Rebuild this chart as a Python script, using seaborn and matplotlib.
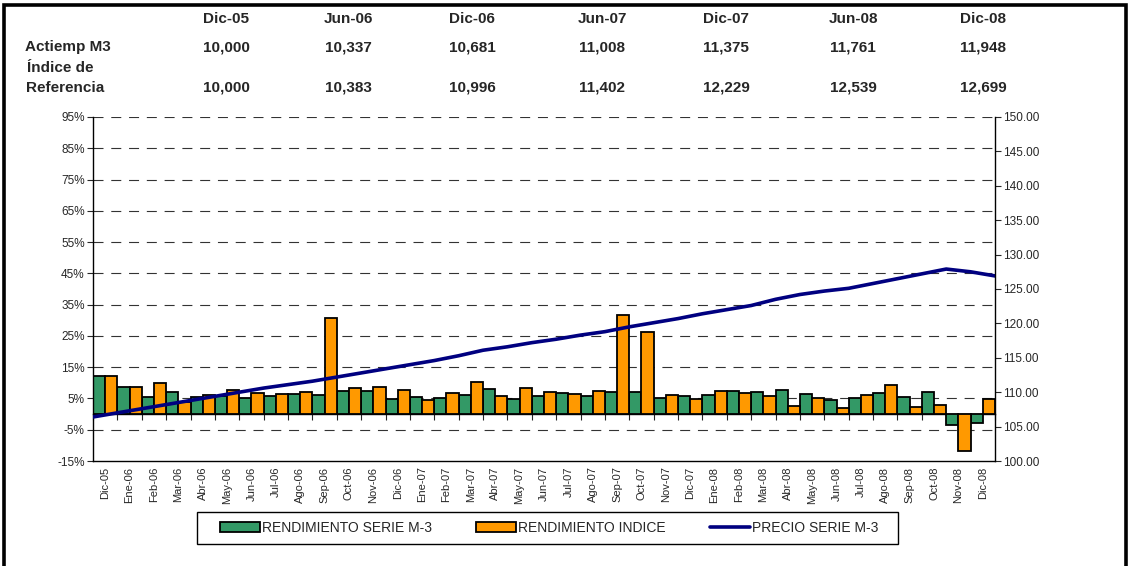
import numpy as np
import pandas as pd
import matplotlib
matplotlib.use("Agg")
import matplotlib.pyplot as plt
import seaborn as sns
from matplotlib.patches import Patch, Rectangle
from matplotlib.lines import Line2D

# ---- data ----
meses = ['Dic-05', 'Ene-06', 'Feb-06', 'Mar-06', 'Abr-06', 'May-06', 'Jun-06',
         'Jul-06', 'Ago-06', 'Sep-06', 'Oct-06', 'Nov-06', 'Dic-06', 'Ene-07',
         'Feb-07', 'Mar-07', 'Abr-07', 'May-07', 'Jun-07', 'Jul-07', 'Ago-07',
         'Sep-07', 'Oct-07', 'Nov-07', 'Dic-07', 'Ene-08', 'Feb-08', 'Mar-08',
         'Abr-08', 'May-08', 'Jun-08', 'Jul-08', 'Ago-08', 'Sep-08', 'Oct-08',
         'Nov-08', 'Dic-08']

rend_serie = [12.2, 8.7, 5.5, 7.0, 5.5, 5.8, 5.3, 5.9, 6.5, 6.1, 7.4, 7.4, 4.9,
              5.4, 5.3, 6.2, 7.9, 4.9, 5.8, 6.8, 5.9, 7.1, 7.1, 5.2, 5.9, 6.2,
              7.5, 7.2, 7.6, 6.4, 4.6, 5.2, 6.6, 5.5, 7.1, -3.5, -2.7]

rend_indice = [12.2, 8.7, 9.8, 4.0, 6.1, 7.7, 6.8, 6.3, 7.2, 30.7, 8.4, 8.6, 7.8,
               4.6, 6.8, 10.3, 5.8, 8.3, 7.0, 6.3, 7.4, 31.7, 26.3, 6.2, 4.9, 7.5,
               6.8, 5.7, 2.6, 5.2, 2.0, 6.0, 9.4, 2.3, 2.9, -11.8, 4.7]

# price of the series at each month boundary (start of Dic-05 .. end of Dic-08)
precio = [106.4, 107.0, 107.6, 108.2, 108.8, 109.4, 110.0, 110.6, 111.1, 111.6,
          112.2, 112.8, 113.4, 114.0, 114.6, 115.3, 116.1, 116.6, 117.2, 117.7,
          118.3, 118.8, 119.5, 120.1, 120.7, 121.4, 122.0, 122.6, 123.5, 124.2,
          124.7, 125.1, 125.8, 126.5, 127.2, 127.9, 127.5, 126.9]

# summary table above the chart
tabla_fechas = ['Dic-05', 'Jun-06', 'Dic-06', 'Jun-07', 'Dic-07', 'Jun-08', 'Dic-08']
tabla_actiemp = ['10,000', '10,337', '10,681', '11,008', '11,375', '11,761', '11,948']
tabla_indice = ['10,000', '10,383', '10,996', '11,402', '12,229', '12,539', '12,699']

VERDE = '#339966'
NARANJA = '#FF9900'
AZUL = '#000080'

sns.set_style('white')
plt.rcParams['font.family'] = ['Liberation Sans', 'DejaVu Sans']

df = pd.DataFrame({
    'mes': meses * 2,
    'valor': rend_serie + rend_indice,
    'serie': ['RENDIMIENTO SERIE M-3'] * len(meses) + ['RENDIMIENTO INDICE'] * len(meses),
})


def fx(px):
    return px / 1130


def fy(py):
    return 1 - py / 566


fig = plt.figure(figsize=(11.30, 5.66), dpi=100)
ax = fig.add_axes([0.0823, 0.1855, 0.8805 - 0.0823, 0.7933 - 0.1855])

ymin, ymax = -15, 95
for y in range(-5, 96, 10):
    ax.axhline(y, color='#333333', lw=0.8, ls=(0, (9, 7)), zorder=0)

sns.barplot(data=df, x='mes', y='valor', hue='serie',
            palette=[VERDE, NARANJA], width=1.0, gap=0, edgecolor='black',
            linewidth=1.3, saturation=1, legend=False, ax=ax, zorder=2)

ax.set_ylim(ymin, ymax)
ax.set_xlim(-0.5, len(meses) - 0.5)
ax.set_yticks(range(-15, 96, 10))
ax.set_yticklabels([f'{v}%' for v in range(-15, 96, 10)])
ax.set_xlabel('')
ax.set_ylabel('')
ax.tick_params(axis='x', rotation=90, labelsize=8, length=0, pad=4)
ax.tick_params(axis='y', labelsize=8.5, length=4, direction='out', width=0.8, pad=2)
ax.spines['top'].set_visible(False)
ax.spines['right'].set_visible(False)
for s in ('left', 'bottom'):
    ax.spines[s].set_linewidth(1)
    ax.spines[s].set_color('black')

# category axis crossing at 0%
sec = ax.secondary_xaxis((0 - ymin) / (ymax - ymin))
sec.set_xticks(np.arange(len(meses) + 1) - 0.5)
sec.set_xticklabels([])
sec.tick_params(length=4, direction='out', width=0.8)
sec.spines['bottom'].set_linewidth(1)
sec.spines['bottom'].set_color('black')

# price on the right axis
ax2 = ax.twinx()
x_precio = np.arange(len(precio)) - 0.5
sns.lineplot(x=x_precio, y=precio, color=AZUL, lw=2.6, ax=ax2)
ax2.set_xlim(-0.5, len(meses) - 0.5)
ax2.set_ylim(100, 150)
ax2.set_yticks(np.arange(100, 151, 5))
ax2.set_yticklabels([f'{v:.2f}' for v in np.arange(100, 151, 5)])
ax2.tick_params(axis='y', labelsize=8.5, length=4, direction='out', width=0.8, pad=2)
for s in ('top', 'left', 'bottom'):
    ax2.spines[s].set_visible(False)
ax2.spines['right'].set_linewidth(1)
ax2.spines['right'].set_color('black')

# legend (frame drawn separately to get the wide box of the original)
handles = [Patch(facecolor=VERDE, edgecolor='black', lw=1.3),
           Patch(facecolor=NARANJA, edgecolor='black', lw=1.3),
           Line2D([], [], color=AZUL, lw=2.6)]
labels = ['RENDIMIENTO SERIE M-3', 'RENDIMIENTO INDICE', 'PRECIO SERIE M-3']
fig.legend(handles, labels, loc='center', bbox_to_anchor=(fx(549), fy(528)),
           ncol=3, fontsize=10, frameon=False,
           handlelength=2.9, handleheight=0.75, handletextpad=0.1,
           columnspacing=3.2, borderpad=0, borderaxespad=0)
fig.add_artist(Rectangle((fx(197), fy(544)), fx(898) - fx(197), fy(512) - fy(544),
                         transform=fig.transFigure, fill=False,
                         edgecolor='black', lw=1))

# table above the chart
col_x = [226, 348, 472, 602, 726, 853, 983]
txt = dict(fontsize=11, fontweight='bold', va='center')
for xc, f, a, i in zip(col_x, tabla_fechas, tabla_actiemp, tabla_indice):
    fig.text(fx(xc), fy(19), f, ha='center', **txt)
    fig.text(fx(xc), fy(47), a, ha='center', **txt)
    fig.text(fx(xc), fy(88), i, ha='center', **txt)
fig.text(fx(25), fy(47), 'Actiemp M3', ha='left', **txt)
fig.text(fx(27), fy(68), 'Índice de', ha='left', **txt)
fig.text(fx(26), fy(88), 'Referencia', ha='left', **txt)

# outer frame of the sheet
fig.add_artist(Rectangle((fx(4), -0.1), fx(1122), 1.1 - 5 / 566, transform=fig.transFigure,
                         fill=False, edgecolor='black', lw=2.6))

fig.savefig('out.png', dpi=100)
